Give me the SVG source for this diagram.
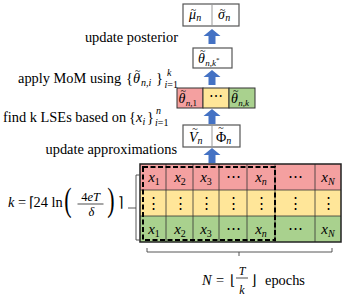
<svg xmlns="http://www.w3.org/2000/svg" xmlns:xlink="http://www.w3.org/1999/xlink" width="346" height="300" viewBox="0 0 346 300" font-family="'Liberation Serif', 'Times New Roman', serif">
<style>
text{font-family:"Liberation Serif","Times New Roman",serif;fill:#000}
.t{font-size:14.4px}
.m{font-style:italic}
.u{font-style:normal}
.box{fill:#fff;stroke:#555;stroke-width:1.2}
.red{fill:#f4a0a0}
.yel{fill:#ffe699}
.grn{fill:#a9d18e}
.arr{fill:#4472c4}
.cl{stroke:#333;stroke-width:0.8;fill:none}
.dv{stroke:#999;stroke-width:1;fill:none}
.br{stroke:#444;stroke-width:0.9;fill:none}
.cx{font-size:15px;text-anchor:middle}
.tl{font-size:10px;font-style:normal}
.s{font-size:10px}
</style>
<defs>
<path id="arr" d="M0,0 L8.5,7 L3.5,7 L3.5,15 L-3.5,15 L-3.5,7 L-8.5,7 Z"/>
</defs>

<g id="posterior">
<rect class="box" x="183" y="4" width="56" height="22"/>
<line class="dv" x1="212" y1="4" x2="212" y2="26"/>
<text x="189" y="19" font-size="14" class="m">μ<tspan class="tl" dx="-5.2" dy="-6">~</tspan><tspan font-size="10" dy="8">n</tspan></text>
<text x="218" y="19" font-size="14" class="m">σ<tspan class="tl" dx="-5.2" dy="-6">~</tspan><tspan font-size="10" dy="8">n</tspan></text>
</g>

<g id="mom">
<rect class="box" x="193" y="48" width="39" height="20"/>
<text x="198" y="63" font-size="14" class="m">θ<tspan class="tl" dx="-5" dy="-9">~</tspan><tspan font-size="9" dy="12">n,k</tspan><tspan font-size="7" dy="-4" class="u">*</tspan></text>
</g>

<g id="lses">
<rect class="red" x="177" y="88" width="26" height="20" stroke="#333" stroke-width="1"/>
<rect class="yel" x="203" y="88" width="26" height="20" stroke="#333" stroke-width="1"/>
<rect class="grn" x="229" y="88" width="26" height="20" stroke="#333" stroke-width="1"/>
<text x="178.5" y="103" font-size="14" class="m">θ<tspan class="tl" dx="-5" dy="-9">~</tspan><tspan font-size="9" dy="12">n,</tspan><tspan font-size="9" class="u">1</tspan></text>
<text x="216" y="101" font-size="14" text-anchor="middle">⋯</text>
<text x="231" y="103" font-size="14" class="m">θ<tspan class="tl" dx="-5" dy="-9">~</tspan><tspan font-size="9" dy="12">n,k</tspan></text>
</g>

<g id="approx">
<rect class="box" x="183" y="125" width="57" height="22"/>
<line class="dv" x1="212" y1="125" x2="212" y2="147"/>
<text x="189" y="142" font-size="14" class="m">V<tspan class="tl" dx="-5.4" dy="-10">~</tspan><tspan font-size="10" dy="12">n</tspan></text>
<text x="216" y="142" font-size="14">Φ<tspan class="tl" dx="-8" dy="-11">~</tspan><tspan font-size="10" dx="2.6" dy="13" class="m">n</tspan></text>
</g>

<g id="grid">
<rect class="red" x="140" y="164" width="201" height="26"/>
<rect class="yel" x="140" y="190" width="201" height="26"/>
<rect class="grn" x="140" y="216" width="201" height="26"/>
<path class="cl" d="M166,164V242M193,164V242M219,164V242M247,164V242M275,164V242M315,164V242M140,190H341M140,216H341"/>
<rect x="140" y="164" width="201" height="78" fill="none" stroke="#222" stroke-width="1.5"/>
<rect x="143" y="167" width="132" height="73" fill="none" stroke="#000" stroke-width="2" stroke-dasharray="5,2.5"/>
<g>
<text class="cx" x="154" y="182"><tspan class="m">x</tspan><tspan font-size="10" dy="3">1</tspan></text>
<text class="cx" x="180" y="182"><tspan class="m">x</tspan><tspan font-size="10" dy="3">2</tspan></text>
<text class="cx" x="206" y="182"><tspan class="m">x</tspan><tspan font-size="10" dy="3">3</tspan></text>
<text class="cx" x="233" y="181">⋯</text>
<text class="cx" x="261" y="182"><tspan class="m">x</tspan><tspan font-size="10" dy="3" class="m">n</tspan></text>
<text class="cx" x="295" y="181">⋯</text>
<text class="cx" x="328" y="182"><tspan class="m">x</tspan><tspan font-size="10" dy="3" class="m">N</tspan></text>
</g>
<g>
<text class="cx" x="153" y="208">⋮</text>
<text class="cx" x="180" y="208">⋮</text>
<text class="cx" x="206" y="208">⋮</text>
<text class="cx" x="233" y="208">⋮</text>
<text class="cx" x="261" y="208">⋮</text>
<text class="cx" x="295" y="208">⋮</text>
<text class="cx" x="328" y="208">⋮</text>
</g>
<g>
<text class="cx" x="154" y="234"><tspan class="m">x</tspan><tspan font-size="10" dy="3">1</tspan></text>
<text class="cx" x="180" y="234"><tspan class="m">x</tspan><tspan font-size="10" dy="3">2</tspan></text>
<text class="cx" x="206" y="234"><tspan class="m">x</tspan><tspan font-size="10" dy="3">3</tspan></text>
<text class="cx" x="233" y="233">⋯</text>
<text class="cx" x="261" y="234"><tspan class="m">x</tspan><tspan font-size="10" dy="3" class="m">n</tspan></text>
<text class="cx" x="295" y="233">⋯</text>
<text class="cx" x="328" y="234"><tspan class="m">x</tspan><tspan font-size="10" dy="3" class="m">N</tspan></text>
</g>
</g>

<g id="connectors">
<use xlink:href="#arr" class="arr" x="212" y="29"/>
<use xlink:href="#arr" class="arr" x="212" y="70"/>
<use xlink:href="#arr" class="arr" x="212" y="109"/>
<use xlink:href="#arr" class="arr" x="212" y="148"/>
<path class="br" d="M140,175H136V240H140M136,208H128"/>
<path class="br" d="M147,248V252H332V248M239,252V256"/>
</g>

<g id="labels">
<text class="t" x="178" y="42" text-anchor="end">update posterior</text>

<text class="t" y="83"><tspan x="18">apply MoM using</tspan><tspan x="126">{</tspan><tspan x="133" class="m">θ</tspan><tspan class="tl" dx="-5" dy="-9">~</tspan><tspan class="s m" dx="0.5" dy="12">n,i</tspan><tspan x="156" dy="-3">}</tspan></text>
<text x="167" y="76" class="s m">k</text>
<text x="164.5" y="88" class="s"><tspan class="m">i</tspan>=1</text>

<text class="t" y="122"><tspan x="3">find k LSEs based on</tspan><tspan x="129">{</tspan><tspan x="136" class="m">x</tspan><tspan class="s m" dy="3">i</tspan><tspan x="147" dy="-3">}</tspan></text>
<text x="156" y="114" class="s m">n</text>
<text x="155" y="126" class="s"><tspan class="m">i</tspan>=1</text>

<text class="t" x="177" y="154" text-anchor="end">update approximations</text>

<text class="t" y="207"><tspan x="8" class="m">k</tspan><tspan x="18">=</tspan><tspan x="29">⌈</tspan><tspan x="33.5">24</tspan><tspan x="51.5">ln</tspan></text>
<text font-size="22" text-anchor="middle" transform="translate(68,203) scale(1,1.5)" x="0" y="5.2">(</text>
<text font-size="22" text-anchor="middle" transform="translate(111,203) scale(1,1.5)" x="0" y="5.2">)</text>
<text x="90.5" y="201" font-size="12.5" text-anchor="middle">4<tspan class="m">eT</tspan></text>
<line x1="77.5" y1="204" x2="103.5" y2="204" stroke="#000" stroke-width="0.7"/>
<text x="91.5" y="216" font-size="12.5" text-anchor="middle" class="m">δ</text>
<text class="t" x="118" y="207">⌉</text>

<text class="t" y="285"><tspan x="202" class="m">N</tspan><tspan x="216">=</tspan><tspan x="230">⌊</tspan></text>
<text x="242" y="275" font-size="12" text-anchor="middle" class="m">T</text>
<line x1="236" y1="278" x2="248" y2="278" stroke="#000" stroke-width="0.7"/>
<text x="242" y="294" font-size="12" text-anchor="middle" class="m">k</text>
<text class="t" y="285"><tspan x="251">⌋</tspan><tspan x="265">epochs</tspan></text>
</g>
</svg>
